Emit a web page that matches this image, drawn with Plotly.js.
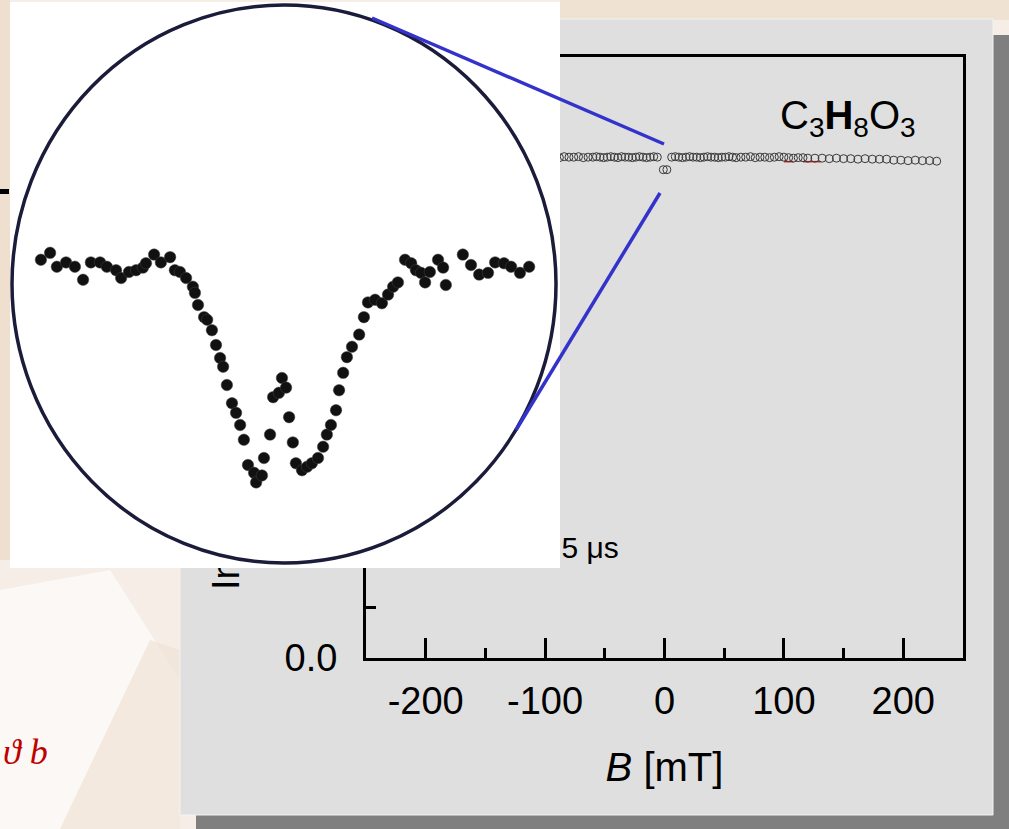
<!DOCTYPE html>
<html><head><meta charset="utf-8">
<script src="https://cdn.plot.ly/plotly-3.0.1.min.js"></script>
<style>
html,body{margin:0;padding:0;background:#f5ece3;overflow:hidden}
#wrap{position:relative;width:1009px;height:829px}
#main,#inset{position:absolute;left:0;top:0;width:1009px;height:829px}
</style></head><body>
<div id="wrap"><div id="main"></div><div id="inset"></div></div>
<script>
// ---- main spectrum: B [mT] vs normalized intensity ----
const B_main = [
 -240,-234,-228,-222,-216,-210,-204,-198,-192,-186,
 -180,-174,-168,-162,-156,-150,-144,-138,-132,-126,
 -120,-115,-110,-105,-100,-96,-92,-88,-84,-80,
 -76,-72,-68,-64,-60,-57,-54,-51,-48,-45,
 -42,-39,-36,-33,-30,-27,-24,-21,-18,-15,
 -12,-9,-6,-1,2,6,9,12,15,18,
 21,24,27,30,33,36,39,42,45,48,
 51,54,57,60,64,68,72,76,80,84,
 88,92,96,100,104,108,112,116,120,126,
 132,138,144,150,156,162,168,174,180,186,
 192,198,204,210,216,222,228];
const I_main = [
 1.000,1.001,0.999,1.000,1.002,1.000,0.999,1.001,1.000,1.000,
 1.001,0.999,1.000,1.000,1.001,0.999,1.000,1.002,1.000,0.999,
 1.000,1.001,1.000,0.999,1.001,1.000,1.000,0.999,1.001,1.000,
 1.000,1.001,0.999,1.000,1.000,1.001,1.000,0.999,1.000,1.001,
 1.000,0.999,1.001,1.000,1.000,0.999,1.000,1.001,1.000,0.999,
 1.000,1.001,1.000,0.975,0.975,1.000,1.001,1.000,0.999,1.000,
 1.001,1.000,1.000,0.999,1.000,1.001,1.000,1.000,0.999,1.000,
 1.000,1.001,1.000,0.999,1.000,1.000,1.001,0.999,1.000,1.000,
 0.999,1.000,1.001,1.000,0.999,0.998,0.999,0.999,0.998,0.998,
 0.998,0.997,0.998,0.997,0.997,0.996,0.997,0.996,0.996,0.996,
 0.994,0.994,0.993,0.994,0.993,0.993,0.992];
// faint red trace partly visible under the open circles
const B_red = [100,108,null,116,131];
const I_red = [0.991,0.991,null,0.991,0.991];

// ---- magnified view of the dip around B = 0 ----
const B_zoom = [
 -7.15,-6.88,-6.68,-6.41,-6.15,-5.91,-5.68,-5.41,-5.21,-4.94,
 -4.79,-4.56,-4.35,-4.15,-4.06,-3.82,-3.62,-3.35,-3.21,-3.06,
 -2.88,-2.68,-2.62,-2.53,-2.35,-2.26,-2.12,-2.00,-1.88,-1.79,
 -1.68,-1.53,-1.41,-1.29,-1.18,-1.06,-0.88,-0.82,-0.65,-0.59,
 -0.41,-0.32,-0.15,-0.06,0.06,0.15,0.26,0.35,0.53,0.68,
 0.82,1.00,1.15,1.26,1.38,1.53,1.62,1.74,1.85,2.00,
 2.21,2.35,2.47,2.68,2.88,3.06,3.21,3.35,3.56,3.74,
 3.88,4.03,4.15,4.29,4.53,4.68,4.76,5.26,5.50,5.74,
 6.00,6.21,6.47,6.68,6.94,7.21];
const I_zoom = [
 1.0006,1.0014,0.9998,1.0003,0.9998,0.9983,1.0003,1.0003,0.9998,0.9994,
 0.9985,0.9992,0.9994,0.9997,1.0002,1.0012,1.0003,1.0009,0.9994,0.9992,
 0.9985,0.9975,0.9968,0.9954,0.9940,0.9937,0.9925,0.9908,0.9893,0.9883,
 0.9862,0.9841,0.9830,0.9816,0.9799,0.9770,0.9761,0.9750,0.9758,0.9778,
 0.9805,0.9848,0.9853,0.9870,0.9859,0.9825,0.9796,0.9772,0.9764,0.9768,
 0.9772,0.9778,0.9791,0.9805,0.9816,0.9833,0.9856,0.9876,0.9894,0.9906,
 0.9920,0.9940,0.9957,0.9960,0.9956,0.9966,0.9975,0.9980,1.0006,1.0002,
 0.9994,0.9991,0.9980,0.9992,1.0006,0.9997,0.9977,1.0012,1.0000,0.9989,
 0.9991,1.0003,1.0002,0.9998,0.9991,0.9998];

const xTickVals = [-200, -100, 0, 100, 200];
const xTickText = ['-200', '-100', '0', '100', '200'];
const yTickVals = [0, 0.5, 1.0];
const yTickText = ['0.0', '0.5', '1.0'];

const xTitle = '<i>B</i> [mT]';
const yTitle = 'Intensity [arb. units]';
const formula = 'C<sub>3</sub><b>H</b><sub>8</sub>O<sub>3</sub>';
const timeLabel = '&#964;<sub>c</sub> = 0.5 &#956;s';

const W = 1009, H = 829;
const px = x => x / W;
const py = y => 1 - y / H;
const FONT = 'Liberation Sans, Arial, sans-serif';

const mainTraces = [
  {x: B_red, y: I_red, type: 'scatter', mode: 'lines', connectgaps: false,
   line: {color: '#d01818', width: 1.5}, hoverinfo: 'skip'},
  {x: B_main, y: I_main, type: 'scatter', mode: 'markers',
   marker: {symbol: 'circle-open', size: 8, color: '#3a3a3a', line: {width: 1}}}
];

const axisCommon = {
  showline: true, linewidth: 3, linecolor: '#000', mirror: true,
  showgrid: false, zeroline: false, ticks: 'inside', ticklen: 20, tickwidth: 3, tickcolor: '#000',
  tickfont: {family: FONT, size: 38, color: '#000'}, tickmode: 'array'
};

const mainLayout = {
  width: W, height: H, margin: {l: 0, r: 0, t: 0, b: 0},
  paper_bgcolor: '#f6eee6', plot_bgcolor: 'rgba(0,0,0,0)',
  showlegend: false, font: {family: FONT, color: '#000'},
  xaxis: Object.assign({}, axisCommon, {
    domain: [px(366), px(963)], range: [-250, 250],
    tickvals: xTickVals, ticktext: xTickText,
    ticklabelstandoff: 7,
    minor: {dtick: 50, tick0: 0, ticks: 'inside', ticklen: 10, tickwidth: 3, tickcolor: '#000', showgrid: false},
    title: {text: xTitle, font: {family: FONT, size: 40, color: '#000'}, standoff: 33}
  }),
  yaxis: Object.assign({}, axisCommon, {
    domain: [py(658), py(57)], range: [0, 1.2],
    tickvals: yTickVals, ticktext: yTickText,
    ticklabelstandoff: 18,
    minor: {dtick: 0.1, tick0: 0, ticks: 'inside', ticklen: 10, tickwidth: 3, tickcolor: '#000', showgrid: false}
  }),
  shapes: [
    // soft marbled background streaks
    {type: 'path', xref: 'paper', yref: 'paper', layer: 'below',
     path: `M 0 ${py(590)} L ${px(110)} ${py(570)} L ${px(180)} ${py(680)} L ${px(180)} ${py(829)} L 0 ${py(829)} Z`,
     fillcolor: 'rgba(255,255,255,0.6)', line: {width: 0}},
    {type: 'path', xref: 'paper', yref: 'paper', layer: 'below',
     path: `M ${px(60)} ${py(829)} L ${px(150)} ${py(640)} L ${px(180)} ${py(650)} L ${px(180)} ${py(829)} Z`,
     fillcolor: 'rgba(240,226,212,0.7)', line: {width: 0}},
    {type: 'rect', xref: 'paper', yref: 'paper', layer: 'below',
     x0: 0, x1: px(10), y0: py(560), y1: 1, fillcolor: '#eedfcf', line: {width: 0}},
    {type: 'rect', xref: 'paper', yref: 'paper', layer: 'below',
     x0: px(560), x1: 1, y0: py(20), y1: 1, fillcolor: '#efe2d3', line: {width: 0}},
    // drop shadow and grey panel
    {type: 'rect', xref: 'paper', yref: 'paper', layer: 'below',
     x0: px(196), x1: 1, y0: 0, y1: py(35), fillcolor: '#7f7f7f', line: {width: 0}},
    {type: 'rect', xref: 'paper', yref: 'paper', layer: 'below',
     x0: px(180), x1: px(993), y0: py(815), y1: py(19), fillcolor: '#dfdfdf',
     line: {color: '#f2f2f2', width: 1}},
    // black rule on the slide behind
    {type: 'rect', xref: 'paper', yref: 'paper', layer: 'below',
     x0: 0, x1: px(9), y0: py(194), y1: py(189), fillcolor: '#000', line: {width: 0}}
  ],
  annotations: [
    {text: formula, xref: 'paper', yref: 'paper', x: px(848), y: py(118),
     xanchor: 'center', yanchor: 'middle', showarrow: false,
     font: {family: FONT, size: 40, color: '#000'}},
    {text: timeLabel, xref: 'paper', yref: 'paper', x: px(621), y: py(549),
     xanchor: 'right', yanchor: 'middle', showarrow: false,
     font: {family: FONT, size: 30, color: '#000'}},
    {text: yTitle, xref: 'paper', yref: 'paper', x: px(226), y: py(592),
     xanchor: 'center', yanchor: 'bottom', textangle: -90, showarrow: false,
     font: {family: FONT, size: 38, color: '#000'}},
    {text: '<i>&#977; b</i>', xref: 'paper', yref: 'paper', x: px(1), y: py(752),
     xanchor: 'left', yanchor: 'middle', showarrow: false,
     font: {family: 'Liberation Serif, DejaVu Serif, serif', size: 36, color: '#c00000'}}
  ]
};

const insetTraces = [
  {x: B_zoom, y: I_zoom, type: 'scatter', mode: 'markers',
   marker: {size: 11.5, color: '#111', line: {color: '#444', width: 0.5}}}
];

const insetLayout = {
  width: W, height: H, margin: {l: 0, r: 0, t: 0, b: 0},
  paper_bgcolor: 'rgba(0,0,0,0)', plot_bgcolor: 'rgba(0,0,0,0)',
  showlegend: false,
  xaxis: {domain: [px(12), px(556)], range: [-8, 8], visible: false, fixedrange: true},
  yaxis: {domain: [py(563), py(5)], range: [0.96573, 1.0299], visible: false, fixedrange: true},
  shapes: [
    {type: 'rect', xref: 'paper', yref: 'paper', layer: 'below',
     x0: px(10), x1: px(560), y0: py(568), y1: py(2), fillcolor: '#ffffff', line: {width: 0}},
    {type: 'circle', xref: 'paper', yref: 'paper', layer: 'above',
     x0: px(12), x1: px(556), y0: py(563), y1: py(5), line: {color: '#1b1b3a', width: 3.5}},
    {type: 'line', xref: 'paper', yref: 'paper', layer: 'above',
     x0: px(372), y0: py(18), x1: px(664), y1: py(144), line: {color: '#3333cc', width: 3.5}},
    {type: 'line', xref: 'paper', yref: 'paper', layer: 'above',
     x0: px(660), y0: py(193), x1: px(516), y1: py(430), line: {color: '#3333cc', width: 3.5}}
  ]
};

const cfg = {staticPlot: true, displayModeBar: false};
Plotly.newPlot('main', mainTraces, mainLayout, cfg);
Plotly.newPlot('inset', insetTraces, insetLayout, cfg);
</script>
</body></html>
